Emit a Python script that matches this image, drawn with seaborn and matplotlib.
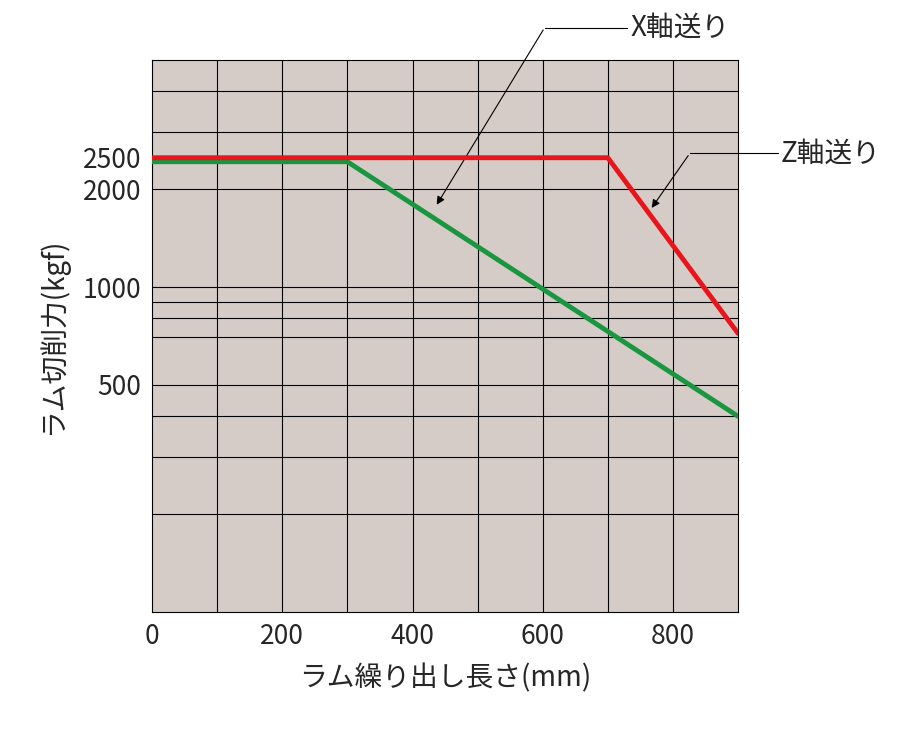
import matplotlib
matplotlib.use("Agg")
import matplotlib.pyplot as plt
import seaborn as sns
import pandas as pd

sns.set_style("white")
plt.rcParams['font.family'] = ['Noto Sans CJK JP', 'DejaVu Sans']

z_x = [0, 700, 900]
z_y = [2500, 2500, 720]
x_x = [0, 300, 900]
x_y = [2430, 2430, 400]
yticks = [500, 1000, 2000, 2500]
xticks = [0, 200, 400, 600, 800]

fig = plt.figure(figsize=(9, 7.31), dpi=100)
ax = fig.add_axes([0.169, 0.163, 0.651, 0.755])
ax.set_facecolor('#d6ccc7')
ax.set_yscale('log')
ax.set_xlim(0, 900)
ax.set_ylim(100, 5000)

for gx in range(100, 900, 100):
    ax.axvline(gx, color='black', lw=0.8, zorder=1)
for gy in [200, 300, 400, 500, 700, 800, 900, 1000, 2000, 3000, 4000]:
    ax.axhline(gy, color='black', lw=0.8, zorder=1)

sns.lineplot(x=x_x, y=x_y, ax=ax, color='#1a9641', lw=3.5, zorder=3)
sns.lineplot(x=z_x, y=z_y, ax=ax, color='#e8161c', lw=3.5, zorder=4)

ax.set_xticks(xticks)
ax.set_xticklabels([str(v) for v in xticks], fontsize=19)
ax.set_yticks(yticks)
ax.set_yticklabels([str(v) for v in yticks], fontsize=19)
ax.minorticks_off()
ax.tick_params(length=0, pad=8)
for s in ax.spines.values():
    s.set_color('black'); s.set_linewidth(0.8)
ax.set_xlabel('ラム繰り出し長さ(mm)', fontsize=20, labelpad=10)
ax.set_ylabel('ラム切削力(kgf)', fontsize=20, labelpad=10)

ap = dict(arrowstyle='-|>', color='black', lw=0.8, mutation_scale=12)
# X axis feed
ax.plot([603, 730], [6290, 6290], color='black', lw=0.8, clip_on=False)
ax.annotate('', xy=(435, 1762), xytext=(603, 6290), arrowprops=ap, annotation_clip=False)
ax.text(735, 6290, 'X軸送り', fontsize=20, va='center', ha='left')
# Z axis feed
ax.plot([826, 962], [2580, 2580], color='black', lw=0.8, clip_on=False)
ax.annotate('', xy=(765, 1724), xytext=(826, 2580), arrowprops=ap, annotation_clip=False)
ax.text(966, 2580, 'Z軸送り', fontsize=20, va='center', ha='left')

fig.savefig('out.png', dpi=100)
